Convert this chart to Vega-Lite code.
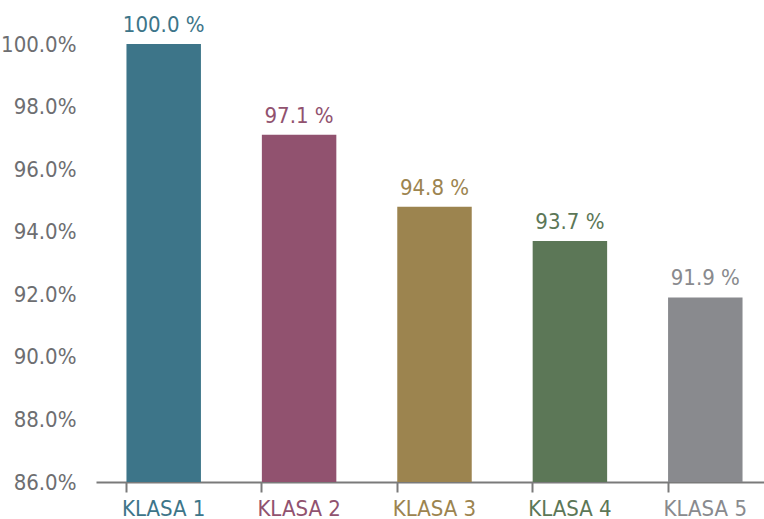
{
  "$schema": "https://vega.github.io/schema/vega-lite/v6.json",
  "width": 668,
  "height": 438,
  "autosize": {"type": "none"},
  "padding": {"left": 96, "top": 44, "right": 0, "bottom": 37},
  "background": "white",
  "config": {"view": {"stroke": null}, "font": "'DejaVu Sans Condensed', 'Liberation Sans Narrow', Roboto"},
  "data": {"values": [
    {"klasa": "KLASA 1", "value": 1.0},
    {"klasa": "KLASA 2", "value": 0.971},
    {"klasa": "KLASA 3", "value": 0.948},
    {"klasa": "KLASA 4", "value": 0.937},
    {"klasa": "KLASA 5", "value": 0.919}
  ]},
  "transform": [{"calculate": "format(datum.value * 100, '.1f') + ' %'", "as": "label"}],
  "encoding": {
    "x": {"field": "klasa", "type": "nominal", "sort": null,
      "scale": {"range": [0, 677], "paddingInner": 0.45, "paddingOuter": 0.225},
      "axis": {"title": null, "labelAngle": 0, "bandPosition": 0, "domainColor": "#7a7a7a", "domainWidth": 2,
        "tickColor": "#7a7a7a", "tickWidth": 2, "tickSize": 10, "labelPadding": 6, "labelBaseline": "top",
        "labelFontSize": 22, "labelFontWeight": 500,
        "labelColor": {"expr": "datum.label == 'KLASA 1' ? '#3d7589' : datum.label == 'KLASA 2' ? '#91526f' : datum.label == 'KLASA 3' ? '#9c844f' : datum.label == 'KLASA 4' ? '#5c7757' : '#898a8e'"}}},
    "y": {"field": "value", "type": "quantitative",
      "scale": {"domain": [0.86, 1.0], "zero": false, "nice": false},
      "axis": {"title": null, "format": ".1%", "values": [0.86, 0.88, 0.9, 0.92, 0.94, 0.96, 0.98, 1.0],
        "domain": false, "ticks": false, "grid": false, "labelPadding": 20, "labelFontSize": 22, "labelColor": "#6d6e71"}},
    "color": {"field": "klasa", "type": "nominal", "legend": null,
      "scale": {"domain": ["KLASA 1", "KLASA 2", "KLASA 3", "KLASA 4", "KLASA 5"],
        "range": ["#3d7589", "#91526f", "#9c844f", "#5c7757", "#898a8e"]}}
  },
  "layer": [
    {"mark": {"type": "bar"}, "encoding": {"y2": {"datum": 0.86}}},
    {"mark": {"type": "text", "baseline": "alphabetic", "dy": -12, "fontSize": 22, "fontWeight": 500},
      "encoding": {"text": {"field": "label"}}}
  ]
}
